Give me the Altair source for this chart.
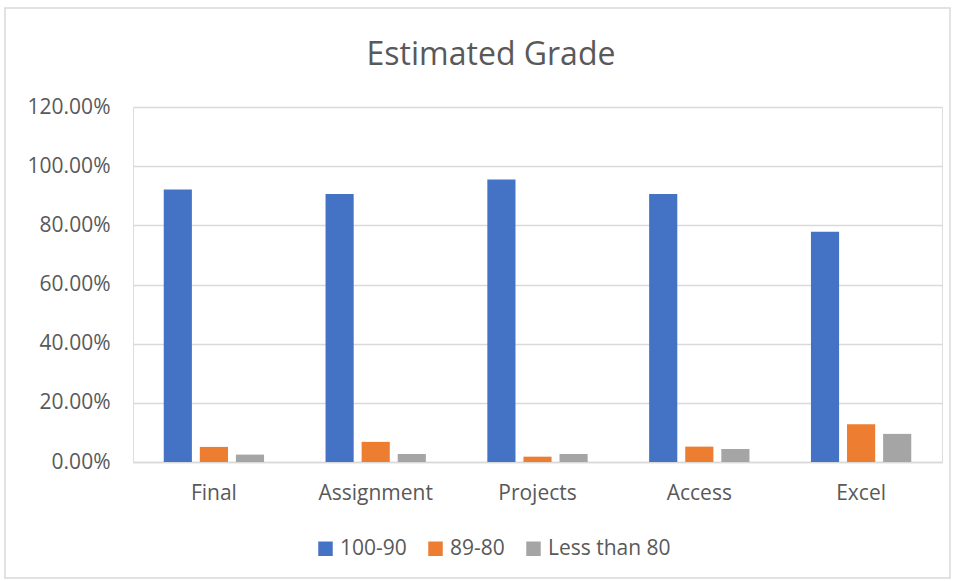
import altair as alt
import pandas as pd

categories = ["Final", "Assignment", "Projects", "Access", "Excel"]
series = ["100-90", "89-80", "Less than 80"]
s_100_90 = [0.921, 0.906, 0.955, 0.906, 0.778]
s_89_80 = [0.051, 0.068, 0.018, 0.052, 0.128]
s_less_80 = [0.025, 0.027, 0.027, 0.044, 0.095]
colors = ["#4472C4", "#ED7D31", "#A5A5A5"]
title_text = "Estimated Grade"

rows = []
for i, c in enumerate(categories):
    for s, vals in zip(series, [s_100_90, s_89_80, s_less_80]):
        rows.append({"Category": c, "Series": s, "Value": vals[i]})
df = pd.DataFrame(rows)

FONT = "Open Sans"
TXT = "#595959"

bars = alt.Chart(df).mark_bar().encode(
    x=alt.X("Category:N", sort=categories, title=None,
            scale=alt.Scale(paddingInner=0.38, paddingOuter=0.19),
            axis=alt.Axis(labelAngle=0, labelFontSize=21, labelColor=TXT, labelFont=FONT,
                          labelPadding=20, domainColor="#d9d9d9", domainWidth=1.5,
                          ticks=False)),
    xOffset=alt.XOffset("Series:N", sort=series, scale=alt.Scale(paddingInner=0.22)),
    y=alt.Y("Value:Q", title=None,
            scale=alt.Scale(domain=[0, 1.2]),
            axis=alt.Axis(format=".2%", values=[0, 0.2, 0.4, 0.6, 0.8, 1.0, 1.2],
                          labelFontSize=21, labelColor=TXT, labelFont=FONT, labelPadding=23,
                          domain=False, ticks=False, gridColor="#d9d9d9", gridWidth=1.5)),
    color=alt.Color("Series:N", sort=series,
                    scale=alt.Scale(domain=series, range=colors),
                    legend=alt.Legend(title=None, orient="none", direction="horizontal",
                                      legendX=182, legendY=431, symbolType="square",
                                      symbolSize=210, symbolStrokeWidth=0, labelFontSize=21,
                                      labelColor=TXT, labelFont=FONT, columnPadding=18,
                                      labelOffset=4, symbolOpacity=1)),
)

border = alt.Chart(pd.DataFrame({"a": [0]})).mark_rect(
    fill=None, stroke="#d9d9d9", strokeWidth=1.5
).encode(x=alt.value(-128), x2=alt.value(817), y=alt.value(-99), y2=alt.value(471))

title = alt.Chart(pd.DataFrame({"t": [title_text]})).mark_text(
    font=FONT, fontSize=32, color=TXT, align="center", baseline="alphabetic"
).encode(text="t:N", x=alt.value(358), y=alt.value(-42))

chart = alt.layer(border, bars, title).properties(
    width=809, height=355,
    autosize=alt.AutoSizeParams(type="none"),
    padding={"left": 133, "top": 107, "right": 16, "bottom": 119},
).configure_view(stroke=None).configure(background="white")

chart.save("out.html", embed_options={"renderer": "svg", "actions": False})
